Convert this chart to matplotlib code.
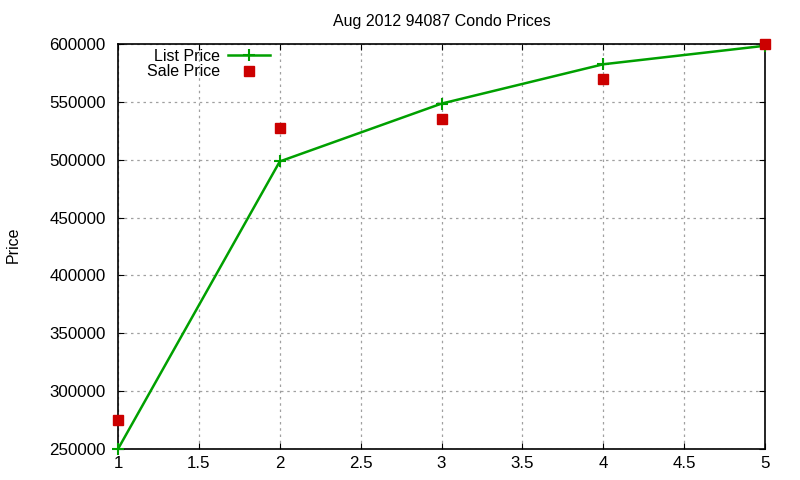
import matplotlib
matplotlib.use('Agg')
import matplotlib.pyplot as plt

plt.rcParams['font.family'] = ['Liberation Sans', 'DejaVu Sans']

x = [1, 2, 3, 4, 5]
list_price = [250000, 498500, 548500, 582500, 598500]
sale_price = [275000, 527000, 535000, 569500, 600000]

green = '#00a000'
red = '#cc0000'

fig = plt.figure(figsize=(8, 4.8), dpi=100)
ax = fig.add_axes([0.1475, 0.0646, 0.8088, 0.8437])

ax.plot(x, list_price, color=green, lw=1.8, marker='+', ms=8, mew=1.5, label='List Price', clip_on=False, zorder=3)
ax.plot(x, sale_price, ls='none', color=red, marker='s', ms=6.5, label='Sale Price', clip_on=False, zorder=4)

ax.set_xlim(1, 5)
ax.set_ylim(250000, 600000)
ax.set_xticks([1, 1.5, 2, 2.5, 3, 3.5, 4, 4.5, 5])
ax.set_xticklabels(['1', '1.5', '2', '2.5', '3', '3.5', '4', '4.5', '5'])
ax.set_yticks(range(250000, 600001, 50000))
ax.tick_params(direction='in', top=True, right=True, length=4.5, labelsize=12.2)
ax.tick_params(axis='y', pad=9)
ax.tick_params(axis='x', pad=5)
ax.grid(True, color='#a0a0a0', ls=(0, (2, 3)), lw=0.9)
for s in ax.spines.values():
    s.set_linewidth(1.2)

ax.set_title('Aug 2012 94087 Condo Prices', fontsize=11.5, pad=13)
fig.text(0.016, 0.49, 'Price', rotation=90, fontsize=11.5, va='center', ha='center')

ax.legend(loc='upper left', bbox_to_anchor=(0.025, 1.02), frameon=False, markerfirst=False,
          fontsize=11.5, handlelength=2.6, labelspacing=0.05, borderpad=0.3, handletextpad=0.5)

fig.savefig('out.png', dpi=100)
